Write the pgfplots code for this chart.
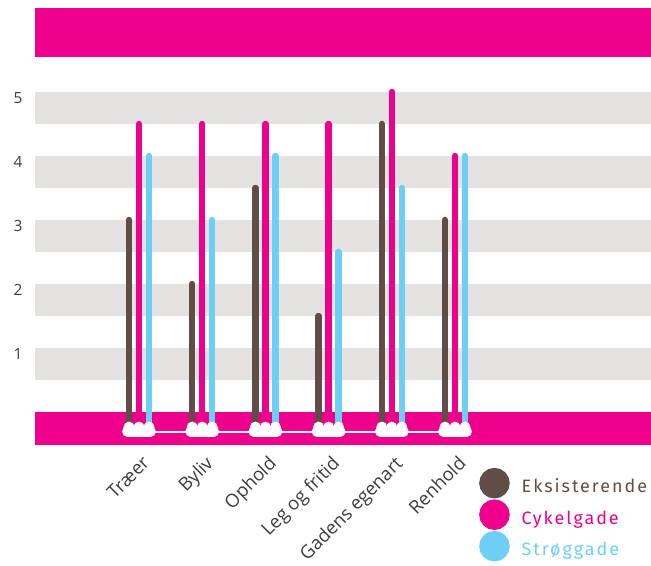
\documentclass[border=0pt]{standalone}
\usepackage{fontspec}
\setmainfont{Open Sans}
\newfontfamily\legfont[LetterSpace=11]{Fira Sans}
\usepackage{pgfplots}
\pgfplotsset{compat=1.18}
\definecolor{cbrown}{HTML}{604D45}
\definecolor{cmag}{HTML}{EC008C}
\definecolor{cblue}{HTML}{6DCFF6}
\definecolor{cgray}{HTML}{E5E3E1}
\definecolor{ctext}{HTML}{3C3C3C}
\begin{document}
\begin{tikzpicture}
\path[use as bounding box] (0bp,0bp) rectangle (651bp,566bp);
\begin{axis}[
  at={(35bp,121bp)}, anchor=south west,
  scale only axis, width=616bp, height=437bp,
  xmin=-1.6456, xmax=8.101, ymin=-0.5156, ymax=6.3125,
  axis line style={draw=none}, major tick length=0pt, clip=false,
  xtick={0,...,5},
  xticklabels={Træer,Byliv,Ophold,Leg og fritid,Gadens egenart,Renhold},
  xticklabel style={rotate=45, anchor=north east, text=ctext,
     font=\fontsize{18.5}{20}\selectfont, xshift=-2bp, yshift=-5bp},
  ytick={1,...,5},
  yticklabel style={anchor=center, xshift=-17bp, yshift=-6bp, text=ctext,
     font=\fontsize{15.5}{17}\selectfont},
  /pgf/number format/assume math mode=true,
  legend cell align=left,
  legend style={at={(axis description cs:0.7208,-0.052)}, anchor=north west,
     draw=none, fill=none, inner sep=0pt, row sep=1bp,
     nodes={inner sep=1bp},
     font=\legfont\fontsize{18}{19}\selectfont},
]
% background bands
\fill[cgray] (axis cs:-1.6456,0.5) rectangle (axis cs:8.101,1);
\fill[cgray] (axis cs:-1.6456,1.5) rectangle (axis cs:8.101,2);
\fill[cgray] (axis cs:-1.6456,2.5) rectangle (axis cs:8.101,3);
\fill[cgray] (axis cs:-1.6456,3.5) rectangle (axis cs:8.101,4);
\fill[cgray] (axis cs:-1.6456,4.5) rectangle (axis cs:8.101,5);
\fill[cmag] (axis cs:-1.6456,-0.5156) rectangle (axis cs:8.101,0);
\fill[cmag] (axis cs:-1.6456,5.547) rectangle (axis cs:8.101,6.3125);
% white base decoration
\addplot[forget plot, white, line width=1.5bp] coordinates {(0,-0.3125) (5,-0.3125)};
\addplot[forget plot, white, line width=10.5bp, line cap=round, unbounded coords=jump] coordinates {
 (-0.185,-0.305) (0.185,-0.305) (0,nan)
 (0.815,-0.305) (1.185,-0.305) (1,nan)
 (1.815,-0.305) (2.185,-0.305) (2,nan)
 (2.815,-0.305) (3.185,-0.305) (3,nan)
 (3.815,-0.305) (4.185,-0.305) (4,nan)
 (4.815,-0.305) (5.185,-0.305)};
\addplot[forget plot, only marks, mark=*, mark size=5.2bp, white] coordinates {
 (-0.158,-0.235) (0,-0.235) (0.158,-0.235)
 (0.842,-0.235) (1,-0.235) (1.158,-0.235)
 (1.842,-0.235) (2,-0.235) (2.158,-0.235)
 (2.842,-0.235) (3,-0.235) (3.158,-0.235)
 (3.842,-0.235) (4,-0.235) (4.158,-0.235)
 (4.842,-0.235) (5,-0.235) (5.158,-0.235)};
% bars
\addplot[cbrown, line width=6.5bp, line cap=round, unbounded coords=jump,
  legend image code/.code={\fill[cbrown] (12bp,0.35em) circle[radius=12bp]; \path (35bp,0.35em);}] coordinates {
 (-0.158,-0.18) (-0.158,3) (0,nan)
 (0.842,-0.18) (0.842,2) (1,nan)
 (1.842,-0.18) (1.842,3.5) (2,nan)
 (2.842,-0.18) (2.842,1.5) (3,nan)
 (3.842,-0.18) (3.842,4.5) (4,nan)
 (4.842,-0.18) (4.842,3)};
\addlegendentry{\textcolor{cbrown}{Eksisterende}}
\addplot[cmag, line width=6.5bp, line cap=round, unbounded coords=jump,
  legend image code/.code={\fill[cmag] (12bp,0.35em) circle[radius=12bp]; \path (35bp,0.35em);}] coordinates {
 (0,-0.18) (0,4.5) (0,nan)
 (1,-0.18) (1,4.5) (1,nan)
 (2,-0.18) (2,4.5) (2,nan)
 (3,-0.18) (3,4.5) (3,nan)
 (4,-0.18) (4,5) (4,nan)
 (5,-0.18) (5,4)};
\addlegendentry{\textcolor{cmag}{Cykelgade}}
\addplot[cblue, line width=6.5bp, line cap=round, unbounded coords=jump,
  legend image code/.code={\fill[cblue] (12bp,0.35em) circle[radius=12bp]; \path (35bp,0.35em);}] coordinates {
 (0.158,-0.18) (0.158,4) (0,nan)
 (1.158,-0.18) (1.158,3) (1,nan)
 (2.158,-0.18) (2.158,4) (2,nan)
 (3.158,-0.18) (3.158,2.5) (3,nan)
 (4.158,-0.18) (4.158,3.5) (4,nan)
 (5.158,-0.18) (5.158,4)};
\addlegendentry{\textcolor{cblue}{Strøggade}}
\end{axis}
\end{tikzpicture}
\end{document}
